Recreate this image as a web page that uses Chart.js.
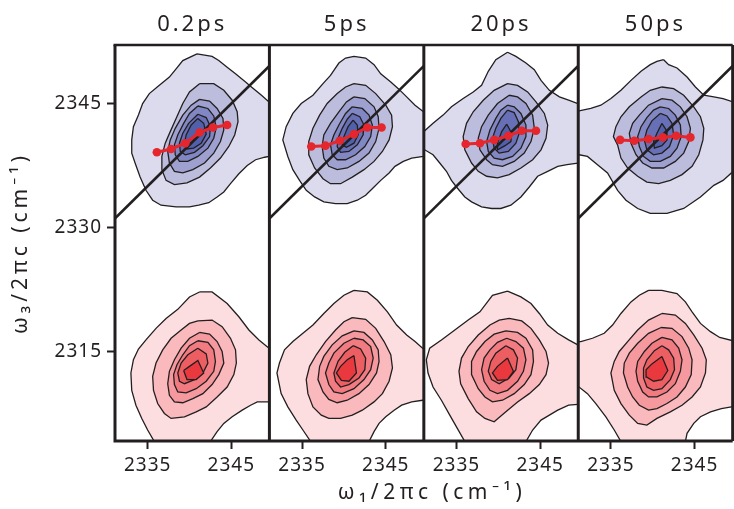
<!DOCTYPE html>
<html>
<head>
<meta charset="utf-8">
<title>2D IR spectra</title>
<script src="https://cdn.jsdelivr.net/npm/chart.js@4.4.1/dist/chart.umd.min.js"></script>
<style>
  html, body { margin: 0; padding: 0; background: #ffffff; overflow: hidden; }
  #wrap { position: relative; width: 738px; height: 509px; }
</style>
</head>
<body>
<div id="wrap"><canvas id="spectra" width="738" height="509"></canvas></div>
<script>
// Waiting times, one panel each
const delays = ['0.2ps', '5ps', '20ps', '50ps'];
const xTicks = [2335, 2345];
const yTicks = [2315, 2330, 2345];
const diagW = [2320, 2360];

// Centre-line: omega_3 of the peak maximum at each omega_1 slice
const slopeW1 = [2336.1, 2337.8, 2339.5, 2341.2, 2342.8, 2344.5];
const slope02 = [2339.1, 2339.5, 2340.2, 2341.5, 2342.1, 2342.4];
const slope5  = [2339.8, 2339.9, 2340.5, 2341.3, 2342.1, 2342.1];
const slope20 = [2340.1, 2340.2, 2340.6, 2341.1, 2341.7, 2341.7];
const slope50 = [2340.6, 2340.5, 2340.7, 2340.9, 2341.1, 2340.9];

// Contour polygons (omega_1, omega_3 pairs), outermost level first
const blue02 = [
  [2340.9,2351.0, 2342.7,2350.7, 2343.5,2350.2, 2344.5,2349.4, 2345.5,2348.6, 2346.7,2347.6, 2347.4,2347.0, 2348.6,2346.0, 2349.5,2345.2, 2351.8,2344.0, 2351.8,2338.8, 2349.5,2338.6, 2349.0,2338.5, 2347.9,2338.2, 2346.9,2337.5, 2345.9,2336.5, 2344.9,2335.3, 2344.1,2334.3, 2343.3,2333.7, 2342.3,2333.0, 2341.1,2332.7, 2340.0,2332.5, 2338.4,2332.5, 2336.6,2332.7, 2335.6,2333.3, 2334.8,2334.5, 2334.1,2336.1, 2333.5,2337.8, 2333.1,2339.0, 2333.1,2340.6, 2333.3,2342.2, 2333.9,2343.6, 2334.4,2345.0, 2335.2,2346.2, 2336.4,2347.2, 2337.6,2348.2, 2338.4,2349.2, 2339.2,2350.2],
  [2341.2,2347.4, 2342.9,2347.4, 2344.1,2346.6, 2345.1,2345.4, 2345.7,2344.0, 2345.8,2342.8, 2345.4,2341.2, 2344.7,2339.8, 2343.7,2338.4, 2342.5,2337.2, 2341.2,2336.1, 2339.7,2335.4, 2338.2,2335.2, 2337.2,2335.7, 2336.7,2337.0, 2336.7,2338.6, 2337.1,2340.2, 2337.7,2341.6, 2338.4,2343.2, 2339.2,2345.0, 2340.0,2346.4],
  [2341.2,2345.5, 2342.4,2345.3, 2343.3,2344.4, 2344.0,2343.2, 2344.1,2341.8, 2343.7,2340.4, 2342.9,2339.0, 2341.8,2337.8, 2340.4,2337.0, 2339.2,2336.6, 2338.2,2336.8, 2337.6,2337.8, 2337.4,2339.2, 2337.7,2340.6, 2338.3,2342.0, 2339.2,2343.6, 2340.2,2344.8],
  [2341.0,2344.7, 2342.2,2344.4, 2342.9,2343.5, 2343.2,2342.1, 2342.9,2340.8, 2342.2,2339.6, 2341.0,2338.6, 2339.8,2338.0, 2338.8,2338.0, 2338.3,2338.8, 2338.2,2340.0, 2338.6,2341.2, 2339.3,2342.6, 2340.0,2343.8],
  [2341.0,2343.7, 2342.0,2343.3, 2342.5,2342.2, 2342.4,2341.0, 2341.6,2339.9, 2340.6,2339.1, 2339.5,2338.8, 2338.9,2339.2, 2338.8,2340.2, 2339.2,2341.4, 2339.9,2342.6],
  [2341.0,2343.2, 2341.7,2342.6, 2342.0,2341.3, 2341.4,2340.2, 2340.5,2339.6, 2339.7,2339.5, 2339.4,2340.2, 2339.6,2341.2, 2340.2,2342.4]
];
const red02 = [
  [2341.2,2322.2, 2342.7,2322.2, 2344.5,2320.8, 2345.9,2319.2, 2347.1,2317.6, 2348.3,2316.4, 2349.5,2315.4, 2350.7,2314.8, 2350.7,2309.1, 2349.5,2308.9, 2348.1,2308.9, 2347.3,2308.5, 2346.3,2307.9, 2345.1,2307.1, 2344.1,2306.3, 2343.3,2305.3, 2342.5,2304.1, 2342.4,2303.1, 2335.6,2303.1, 2335.8,2304.1, 2335.0,2305.5, 2334.3,2306.9, 2333.6,2308.5, 2333.1,2310.3, 2333.0,2312.4, 2333.3,2314.0, 2333.9,2315.3, 2334.8,2316.4, 2336.0,2317.8, 2337.2,2319.0, 2338.6,2320.1, 2340.0,2321.6],
  [2341.0,2318.7, 2342.7,2318.8, 2343.9,2318.0, 2344.9,2316.6, 2345.5,2315.2, 2345.6,2313.6, 2345.3,2312.2, 2344.5,2310.7, 2343.3,2309.5, 2342.0,2308.3, 2340.8,2307.7, 2339.4,2307.1, 2337.8,2306.9, 2337.0,2307.5, 2336.2,2308.7, 2335.7,2310.3, 2335.6,2312.0, 2336.0,2313.6, 2336.8,2315.2, 2337.8,2316.6, 2339.0,2317.6, 2340.0,2318.4],
  [2341.2,2317.3, 2342.4,2317.1, 2343.3,2316.2, 2343.9,2315.0, 2344.1,2313.6, 2343.5,2312.2, 2342.7,2311.0, 2341.6,2309.9, 2340.4,2309.3, 2339.2,2308.8, 2338.2,2308.9, 2337.6,2309.7, 2337.4,2311.1, 2337.6,2312.6, 2338.2,2314.0, 2339.0,2315.4, 2340.0,2316.6],
  [2341.0,2316.3, 2342.2,2316.1, 2342.9,2315.2, 2343.1,2313.8, 2342.9,2312.6, 2342.0,2311.4, 2340.8,2310.5, 2339.6,2310.0, 2338.6,2310.1, 2338.2,2311.0, 2338.1,2312.2, 2338.5,2313.4, 2339.2,2314.6, 2340.0,2315.7],
  [2341.0,2315.4, 2342.0,2314.7, 2342.2,2313.6, 2341.6,2312.4, 2340.6,2311.6, 2339.4,2311.1, 2338.8,2311.4, 2338.6,2312.4, 2339.0,2313.6, 2339.8,2314.6],
  [2339.3,2312.7, 2340.0,2313.2, 2341.0,2313.9, 2341.7,2312.4, 2340.8,2311.6, 2339.7,2311.6]
];
const blue5 = [
  [2341.2,2350.7, 2342.6,2350.5, 2343.6,2349.7, 2344.4,2348.6, 2345.6,2347.6, 2346.5,2346.8, 2347.5,2345.8, 2348.5,2344.8, 2349.5,2344.0, 2350.7,2343.6, 2350.7,2338.8, 2349.5,2338.6, 2348.1,2338.4, 2347.1,2338.0, 2346.1,2337.4, 2345.4,2336.6, 2344.4,2335.7, 2343.6,2334.9, 2342.6,2333.9, 2341.6,2333.3, 2340.4,2332.9, 2339.0,2332.9, 2337.6,2333.1, 2336.5,2333.7, 2335.5,2334.5, 2334.7,2335.7, 2333.9,2337.0, 2333.3,2338.6, 2332.7,2340.6, 2333.1,2342.2, 2333.9,2343.8, 2334.9,2345.0, 2336.3,2346.0, 2337.5,2347.4, 2338.4,2348.4, 2339.4,2349.9, 2340.2,2350.5],
  [2341.2,2347.4, 2342.6,2347.2, 2343.8,2346.2, 2345.0,2344.8, 2345.7,2343.6, 2345.8,2342.2, 2345.4,2340.6, 2344.6,2339.2, 2343.6,2338.0, 2342.4,2337.0, 2341.0,2336.1, 2339.6,2335.3, 2338.4,2335.3, 2337.5,2335.9, 2336.5,2337.2, 2335.8,2338.8, 2335.8,2340.4, 2336.3,2342.0, 2337.1,2343.6, 2338.0,2345.0, 2339.2,2346.2, 2340.2,2347.0],
  [2341.2,2345.8, 2342.5,2345.6, 2343.6,2344.6, 2344.1,2343.4, 2344.2,2342.0, 2343.8,2340.4, 2343.0,2339.0, 2341.8,2338.0, 2340.4,2337.2, 2339.2,2337.0, 2338.2,2337.4, 2337.6,2338.4, 2337.4,2339.8, 2337.6,2341.2, 2338.4,2342.6, 2339.4,2344.0, 2340.3,2345.2],
  [2341.0,2344.6, 2342.2,2344.4, 2343.0,2343.6, 2343.4,2342.4, 2343.2,2341.0, 2342.5,2339.8, 2341.4,2338.8, 2340.2,2338.2, 2339.2,2338.2, 2338.6,2338.8, 2338.4,2340.0, 2338.8,2341.2, 2339.4,2342.4, 2340.2,2343.8],
  [2341.0,2343.8, 2341.9,2343.4, 2342.4,2342.4, 2342.3,2341.2, 2341.6,2340.0, 2340.6,2339.2, 2339.6,2339.1, 2339.2,2339.8, 2339.3,2340.8, 2339.8,2342.0, 2340.4,2343.1],
  [2341.1,2343.0, 2341.6,2342.4, 2341.7,2341.2, 2341.2,2340.2, 2340.3,2339.7, 2339.8,2340.0, 2340.0,2341.0, 2340.5,2342.2]
];
const red5 = [
  [2341.2,2322.4, 2342.8,2322.2, 2344.0,2321.2, 2345.2,2319.8, 2346.3,2318.2, 2347.5,2317.0, 2348.5,2316.2, 2349.4,2315.4, 2350.7,2314.8, 2350.7,2309.2, 2349.4,2309.1, 2348.1,2308.9, 2346.9,2308.5, 2346.0,2307.9, 2345.0,2307.1, 2344.2,2306.3, 2343.6,2305.3, 2343.0,2304.1, 2342.8,2302.9, 2335.9,2302.9, 2335.9,2304.3, 2335.1,2305.5, 2334.3,2306.7, 2333.3,2308.3, 2332.5,2309.9, 2332.0,2312.4, 2332.3,2313.6, 2332.9,2315.2, 2333.9,2316.2, 2335.1,2317.2, 2336.3,2318.2, 2337.6,2319.6, 2338.8,2320.8, 2340.0,2321.8],
  [2341.0,2319.1, 2342.6,2318.9, 2343.8,2317.8, 2344.8,2316.2, 2345.6,2314.6, 2345.8,2313.0, 2345.4,2311.4, 2344.6,2309.9, 2343.6,2308.9, 2342.2,2307.9, 2341.0,2307.3, 2339.6,2306.9, 2338.2,2306.9, 2337.3,2307.3, 2336.3,2308.3, 2335.7,2309.9, 2335.5,2311.6, 2335.9,2313.2, 2336.7,2314.6, 2337.8,2316.2, 2339.0,2317.6, 2340.0,2318.6],
  [2341.2,2317.5, 2342.4,2317.3, 2343.4,2316.4, 2344.1,2315.2, 2344.2,2313.8, 2343.9,2312.4, 2343.0,2311.0, 2341.8,2309.9, 2340.4,2309.1, 2339.2,2308.8, 2338.2,2309.2, 2337.5,2310.1, 2336.9,2311.6, 2337.1,2313.2, 2337.6,2314.4, 2338.6,2315.8, 2339.8,2316.9],
  [2341.2,2316.6, 2342.3,2316.4, 2343.2,2315.6, 2343.5,2314.2, 2343.2,2312.8, 2342.4,2311.6, 2341.2,2310.5, 2339.8,2309.9, 2338.8,2310.1, 2338.2,2311.0, 2337.8,2312.4, 2338.2,2313.6, 2338.8,2314.8, 2340.0,2316.0],
  [2341.1,2315.7, 2342.0,2315.3, 2342.6,2314.2, 2342.5,2312.8, 2341.8,2311.8, 2340.6,2311.0, 2339.6,2310.7, 2339.0,2311.4, 2338.8,2312.4, 2339.3,2313.8, 2340.1,2314.9],
  [2341.2,2314.5, 2341.5,2312.4, 2340.6,2311.4, 2339.7,2311.5, 2339.1,2312.4, 2339.6,2313.2, 2340.4,2314.0]
];
const blue20 = [
  [2341.1,2351.2, 2342.1,2350.7, 2343.3,2349.9, 2344.3,2349.1, 2345.1,2347.8, 2346.1,2346.6, 2347.3,2345.8, 2348.4,2345.4, 2349.5,2345.0, 2350.8,2344.8, 2350.8,2337.8, 2349.5,2337.8, 2348.2,2337.6, 2347.1,2337.4, 2345.9,2336.8, 2344.7,2336.2, 2343.7,2334.9, 2342.7,2333.7, 2341.5,2332.7, 2340.3,2332.3, 2339.2,2332.3, 2338.0,2332.5, 2336.8,2333.1, 2336.0,2333.7, 2335.0,2334.9, 2334.4,2335.7, 2333.8,2336.8, 2333.0,2337.8, 2332.2,2338.8, 2331.2,2339.4, 2329.7,2339.4, 2329.7,2341.7, 2331.2,2341.7, 2332.2,2342.6, 2333.4,2343.6, 2334.4,2344.6, 2335.8,2345.6, 2337.0,2346.4, 2338.0,2347.2, 2338.8,2348.9, 2339.7,2350.3],
  [2341.1,2347.4, 2342.3,2347.2, 2343.5,2346.4, 2344.5,2345.2, 2345.5,2343.8, 2345.9,2342.4, 2345.7,2340.8, 2345.1,2339.4, 2344.1,2338.2, 2342.7,2337.2, 2341.3,2336.4, 2339.9,2336.0, 2338.6,2336.2, 2337.6,2336.8, 2336.8,2337.8, 2336.0,2339.4, 2335.8,2341.0, 2336.2,2342.6, 2337.0,2344.0, 2338.2,2345.4, 2339.5,2346.6],
  [2341.3,2346.0, 2342.3,2345.8, 2343.3,2345.0, 2344.1,2343.6, 2344.3,2342.0, 2343.9,2340.4, 2343.1,2339.0, 2341.9,2338.0, 2340.5,2337.4, 2339.3,2337.6, 2338.6,2338.2, 2337.8,2339.4, 2337.6,2340.8, 2338.0,2342.2, 2338.8,2343.6, 2339.9,2345.0],
  [2341.1,2344.8, 2341.9,2344.6, 2342.7,2343.8, 2343.3,2342.4, 2343.3,2341.0, 2342.7,2339.6, 2341.7,2338.6, 2340.5,2338.2, 2339.5,2338.4, 2338.8,2339.2, 2338.6,2340.4, 2339.0,2341.8, 2339.7,2343.2, 2340.3,2344.2],
  [2341.1,2344.2, 2341.9,2343.9, 2342.4,2342.8, 2342.5,2341.4, 2342.1,2340.2, 2341.2,2339.2, 2340.1,2339.0, 2339.5,2339.6, 2339.3,2340.8, 2339.7,2342.0, 2340.3,2343.2],
  [2341.0,2342.5, 2341.6,2341.4, 2341.5,2340.4, 2340.8,2339.9, 2339.9,2339.4, 2339.9,2340.2, 2340.4,2341.6]
];
const red20 = [
  [2341.1,2322.3, 2342.7,2321.6, 2343.9,2320.8, 2344.9,2319.6, 2345.9,2318.2, 2347.1,2317.2, 2348.4,2316.4, 2349.5,2315.8, 2350.8,2315.4, 2350.8,2308.7, 2349.5,2308.6, 2348.4,2308.5, 2347.1,2307.9, 2346.1,2307.3, 2345.1,2306.7, 2344.1,2305.5, 2343.3,2304.1, 2343.1,2302.9, 2335.8,2302.9, 2336.0,2304.1, 2335.1,2305.7, 2334.2,2307.3, 2333.2,2309.1, 2332.2,2310.7, 2331.6,2312.4, 2331.4,2314.0, 2331.8,2315.4, 2333.2,2316.4, 2334.8,2317.6, 2336.4,2318.8, 2337.8,2319.8, 2339.3,2321.8],
  [2341.3,2319.0, 2342.8,2318.7, 2343.9,2317.8, 2344.9,2316.4, 2345.7,2315.0, 2346.0,2313.6, 2345.7,2312.2, 2344.9,2311.0, 2343.7,2309.9, 2342.3,2308.9, 2340.9,2307.7, 2339.5,2306.5, 2338.4,2306.9, 2337.4,2307.7, 2336.4,2309.3, 2335.5,2311.1, 2335.3,2312.6, 2335.6,2314.2, 2336.4,2315.6, 2337.6,2317.0, 2339.0,2318.2, 2340.1,2318.8],
  [2340.9,2317.5, 2342.3,2317.3, 2343.3,2316.6, 2344.1,2315.2, 2344.2,2313.8, 2343.9,2312.2, 2343.1,2311.0, 2341.9,2309.9, 2340.5,2309.1, 2339.3,2308.9, 2338.4,2309.5, 2337.6,2310.5, 2336.8,2312.2, 2336.8,2313.8, 2337.4,2315.0, 2338.4,2316.2, 2339.5,2317.1],
  [2341.0,2316.6, 2342.1,2316.2, 2343.0,2315.4, 2343.3,2314.0, 2343.0,2312.6, 2342.3,2311.4, 2341.1,2310.3, 2339.9,2309.9, 2339.0,2310.3, 2338.3,2311.4, 2338.0,2312.8, 2338.3,2314.2, 2339.0,2315.2, 2339.9,2316.1],
  [2340.9,2315.7, 2341.8,2315.2, 2342.3,2314.2, 2342.1,2312.8, 2341.3,2311.8, 2340.1,2311.1, 2339.2,2311.6, 2338.8,2312.6, 2339.1,2313.8, 2339.7,2314.8],
  [2341.1,2314.2, 2341.8,2312.6, 2341.1,2311.6, 2339.9,2311.5, 2339.3,2312.4, 2339.9,2313.2]
];
const blue50 = [
  [2341.3,2350.3, 2341.9,2349.7, 2342.9,2349.3, 2344.1,2348.2, 2345.1,2347.0, 2346.1,2346.0, 2347.3,2345.8, 2348.4,2345.6, 2349.6,2345.2, 2350.8,2345.0, 2350.8,2336.8, 2349.4,2336.6, 2348.4,2335.7, 2347.3,2335.1, 2345.7,2333.7, 2343.7,2332.3, 2341.7,2331.7, 2339.7,2331.7, 2338.2,2332.3, 2336.8,2333.3, 2335.8,2334.5, 2334.6,2336.6, 2333.4,2337.6, 2332.2,2338.6, 2331.2,2338.8, 2329.9,2338.8, 2329.9,2344.1, 2331.2,2344.1, 2332.6,2344.4, 2333.8,2344.8, 2335.0,2345.6, 2336.2,2346.6, 2337.4,2347.8, 2338.6,2348.9, 2339.7,2349.7, 2340.5,2350.1],
  [2341.1,2347.0, 2342.5,2346.8, 2343.7,2346.0, 2344.9,2344.6, 2345.7,2343.4, 2346.1,2342.0, 2346.0,2340.6, 2345.5,2338.8, 2344.7,2337.4, 2343.5,2336.4, 2342.1,2335.7, 2340.7,2335.3, 2339.3,2335.5, 2338.2,2336.2, 2337.0,2337.2, 2336.2,2338.4, 2335.8,2340.0, 2335.3,2341.0, 2335.6,2342.2, 2336.2,2343.4, 2337.2,2344.6, 2338.6,2345.8, 2339.7,2346.6],
  [2341.1,2345.6, 2342.3,2345.4, 2343.3,2344.6, 2344.1,2343.4, 2344.5,2342.0, 2344.3,2340.4, 2343.7,2339.0, 2342.7,2338.0, 2341.3,2337.2, 2339.9,2337.2, 2338.8,2337.8, 2338.0,2338.8, 2337.4,2340.2, 2337.2,2341.4, 2337.6,2342.6, 2338.4,2343.6, 2339.5,2344.8],
  [2340.9,2344.6, 2341.9,2344.4, 2342.7,2343.6, 2343.3,2342.4, 2343.4,2341.0, 2342.9,2339.6, 2342.1,2338.6, 2340.9,2338.0, 2339.7,2338.0, 2338.9,2338.6, 2338.4,2339.8, 2338.2,2341.0, 2338.6,2342.2, 2339.3,2343.3, 2340.1,2344.2],
  [2340.9,2343.8, 2341.7,2343.5, 2342.3,2342.6, 2342.5,2341.2, 2342.0,2339.8, 2341.1,2339.0, 2340.1,2338.8, 2339.3,2339.4, 2339.0,2340.6, 2339.3,2341.8, 2339.9,2342.9],
  [2341.1,2342.6, 2341.6,2341.8, 2341.7,2340.6, 2341.1,2339.9, 2340.2,2339.6, 2340.1,2340.4, 2340.5,2341.4]
];
const red50 = [
  [2339.5,2322.4, 2341.1,2322.4, 2342.9,2322.0, 2343.9,2321.0, 2344.7,2319.8, 2345.7,2318.4, 2346.9,2317.4, 2348.0,2316.7, 2349.6,2316.3, 2350.8,2316.2, 2350.8,2308.4, 2349.4,2308.3, 2348.2,2308.1, 2346.9,2307.7, 2345.7,2307.1, 2344.9,2306.3, 2344.1,2305.1, 2343.9,2304.1, 2343.7,2302.9, 2336.2,2302.9, 2336.2,2304.1, 2335.4,2305.5, 2334.4,2307.1, 2333.2,2308.7, 2332.2,2309.9, 2331.2,2310.7, 2329.9,2310.7, 2329.9,2316.2, 2331.4,2316.2, 2332.8,2316.6, 2334.2,2317.2, 2335.2,2318.2, 2336.2,2319.6, 2337.4,2321.0, 2338.4,2321.8],
  [2341.1,2319.6, 2342.7,2319.4, 2343.9,2318.4, 2344.9,2317.0, 2345.9,2315.4, 2346.4,2314.0, 2346.3,2312.4, 2345.7,2310.7, 2344.7,2309.5, 2343.5,2308.5, 2342.1,2307.7, 2340.5,2306.9, 2339.3,2306.1, 2338.2,2306.3, 2337.2,2307.3, 2336.2,2308.7, 2335.4,2310.3, 2335.0,2312.4, 2335.4,2313.8, 2336.0,2315.0, 2337.0,2316.2, 2338.2,2317.6, 2339.5,2318.8],
  [2341.0,2317.9, 2342.3,2317.8, 2343.5,2316.8, 2344.3,2315.4, 2344.7,2314.0, 2344.6,2312.2, 2343.9,2310.7, 2342.9,2309.5, 2341.7,2308.7, 2340.5,2308.1, 2339.5,2307.9, 2338.4,2308.5, 2337.6,2309.5, 2337.0,2310.7, 2336.5,2312.4, 2336.6,2313.6, 2337.2,2314.8, 2338.2,2316.0, 2339.5,2317.2],
  [2341.1,2316.7, 2342.3,2316.4, 2343.1,2315.4, 2343.5,2314.0, 2343.3,2312.6, 2342.7,2311.1, 2341.7,2310.1, 2340.5,2309.5, 2339.5,2309.5, 2338.8,2310.1, 2338.2,2311.4, 2338.0,2312.6, 2338.2,2313.8, 2339.0,2315.0, 2339.9,2316.0],
  [2341.1,2315.7, 2341.9,2315.2, 2342.5,2314.2, 2342.6,2312.8, 2342.1,2311.6, 2341.1,2310.5, 2340.1,2310.3, 2339.3,2310.7, 2338.9,2311.8, 2338.9,2313.0, 2339.3,2314.0, 2340.2,2315.1],
  [2341.1,2314.4, 2341.8,2312.7, 2341.1,2311.6, 2340.1,2311.4, 2339.3,2311.9, 2339.2,2312.8, 2339.9,2313.5]
];

// Fill colours per contour level, outermost first
const blueFill = ['#dcdbee', '#bcbddc', '#9ea1cf', '#8187c2', '#6770b6', '#5160aa'];
const redFill  = ['#fcdde0', '#f9b9bd', '#f5999e', '#f17b80', '#ed5e63', '#e9393f'];

const INK = '#231f20';
const RED = '#e5262c';
const FONT = "'Noto Sans', 'Open Sans', sans-serif";
const xMin = 2331.1, xMax = 2349.55;
const yMin = 2304.17, yMax = 2352.08;

const panels = [
  { delay: delays[0], blue: blue02, red: red02, slope: slope02 },
  { delay: delays[1], blue: blue5,  red: red5,  slope: slope5 },
  { delay: delays[2], blue: blue20, red: red20, slope: slope20 },
  { delay: delays[3], blue: blue50, red: red50, slope: slope50 }
];

// Closed ring of {x, y} points from a flat list of pairs
function ring(flat) {
  const out = [];
  for (let i = 0; i < flat.length; i += 2) out.push({ x: flat[i], y: flat[i + 1] });
  out.push({ x: flat[0], y: flat[1] });
  return out;
}

// Canvas letter spacing for one scale's title and tick labels
function spaceText(scale, titlePx, labelPx) {
  if (scale.$spaced) return;
  scale.$spaced = true;
  const wrap = (name, px) => {
    const fn = scale[name];
    scale[name] = function (...args) {
      const ctx = this.ctx;
      const prev = ctx.letterSpacing;
      ctx.letterSpacing = px + 'px';
      fn.apply(this, args);
      ctx.letterSpacing = prev;
    };
  };
  wrap('drawTitle', titlePx);
  wrap('drawLabels', labelPx);
}

const datasets = [];
panels.forEach((p, i) => {
  const xid = 'x' + i;
  [[p.blue, blueFill], [p.red, redFill]].forEach(([levels, fills]) => {
    levels.forEach((lv, k) => {
      datasets.push({
        data: ring(lv), xAxisID: xid, yAxisID: 'y', showLine: true,
        fill: 'shape', backgroundColor: fills[k], borderColor: INK, borderWidth: 1.3,
        pointRadius: 0, pointHoverRadius: 0, tension: 0, order: 100 - k
      });
    });
  });
  datasets.push({
    data: diagW.map(v => ({ x: v, y: v })), xAxisID: xid, yAxisID: 'y', showLine: true,
    borderColor: INK, borderWidth: 2.6, pointRadius: 0, pointHoverRadius: 0, order: 10
  });
  datasets.push({
    data: slopeW1.map((v, j) => ({ x: v, y: p.slope[j] })), xAxisID: xid, yAxisID: 'y', showLine: true,
    borderColor: RED, backgroundColor: RED, borderWidth: 3, pointRadius: 4.3, pointHoverRadius: 4.3,
    pointBorderWidth: 0, order: 0
  });
});

const tickFont = { family: FONT, size: 19 };
const titleFont = { family: FONT, size: 21 };
const tickGrid = { drawOnChartArea: false, drawTicks: true, tickLength: 8, tickWidth: 2, tickColor: INK };
const plainNumber = v => String(v);
const blankAxis = { ticks: { display: false }, grid: { display: false }, border: { display: false } };

const scales = {
  y: {
    type: 'linear', position: 'left', min: yMin, max: yMax,
    afterBuildTicks: s => { s.ticks = yTicks.map(v => ({ value: v })); },
    afterFit: s => { s.width = 115; },
    afterUpdate: s => spaceText(s, 4, 1),
    grid: tickGrid, border: { display: false },
    ticks: { font: tickFont, color: INK, padding: 5, callback: plainNumber },
    title: { display: true, text: 'ω₃/2πc (cm⁻¹)', font: titleFont, color: INK, padding: { top: 8, bottom: 0 } }
  },
  // narrow empty slot that sets the omega_1 title a little right of centre
  w1gap: {
    type: 'linear', position: 'bottom', stack: 'w1row', stackWeight: 0.027, weight: 10, min: 0, max: 1,
    ...blankAxis,
    afterFit: s => { s.height = 30; }
  },
  w1: {
    type: 'linear', position: 'bottom', stack: 'w1row', stackWeight: 1, weight: 10, min: 0, max: 1,
    ...blankAxis,
    afterFit: s => { s.height = 30; },
    afterUpdate: s => spaceText(s, 4.5, 0),
    title: { display: true, text: 'ω₁/2πc (cm⁻¹)', font: titleFont, color: INK, padding: { top: 0, bottom: 3 } }
  }
};
panels.forEach((p, i) => {
  scales['x' + i] = {
    type: 'linear', position: 'bottom', stack: 'w1axes', stackWeight: 1, weight: 0,
    min: xMin, max: xMax,
    afterBuildTicks: s => { s.ticks = xTicks.map(v => ({ value: v })); },
    afterFit: s => { s.height = 38; },
    afterUpdate: s => spaceText(s, 0, 1),
    grid: tickGrid, border: { display: false },
    ticks: { font: tickFont, color: INK, padding: 5, maxRotation: 0, autoSkip: false, callback: plainNumber }
  };
  scales['t' + i] = {
    type: 'linear', position: 'top', stack: 'delays', stackWeight: 1, weight: 3 - i,
    min: xMin, max: xMax,
    ...blankAxis,
    afterFit: s => { s.height = 45; },
    afterUpdate: s => spaceText(s, 3, 0),
    title: { display: true, text: p.delay, font: { family: FONT, size: 22 }, color: INK, padding: { top: 12, bottom: 0 } }
  };
});

// Keep each panel's marks inside its own omega_1 range
const panelClip = {
  id: 'panelClip',
  beforeDatasetDraw(chart, args) {
    const xs = args.meta.xScale, ys = args.meta.yScale;
    const ctx = chart.ctx;
    ctx.save();
    ctx.beginPath();
    ctx.rect(xs.left, ys.top, xs.right - xs.left, ys.bottom - ys.top);
    ctx.clip();
  },
  afterDatasetDraw(chart) { chart.ctx.restore(); }
};
// The clip must run before the filler paints each contour
const filler = Chart.registry.getPlugin('filler');
Chart.unregister(filler);
Chart.register(panelClip, filler);

// Panel frames
const panelFrame = {
  id: 'panelFrame',
  afterDatasetsDraw(chart) {
    const { ctx, chartArea: a } = chart;
    ctx.save();
    ctx.strokeStyle = INK;
    ctx.lineWidth = 3;
    ctx.beginPath();
    panels.forEach((p, i) => {
      const s = chart.scales['x' + i];
      ctx.moveTo(s.left, a.top); ctx.lineTo(s.left, a.bottom + 1.5);
    });
    ctx.moveTo(a.right, a.top); ctx.lineTo(a.right, a.bottom);
    ctx.moveTo(a.left - 1.5, a.bottom); ctx.lineTo(a.right, a.bottom);
    ctx.stroke();
    ctx.lineWidth = 2.5;
    ctx.beginPath();
    ctx.moveTo(a.left - 1.5, a.top); ctx.lineTo(a.right, a.top);
    ctx.stroke();
    ctx.restore();
  }
};

new Chart(document.getElementById('spectra'), {
  type: 'scatter',
  data: { datasets },
  options: {
    responsive: false,
    animation: false,
    events: [],
    devicePixelRatio: 1,
    layout: { padding: { left: 0, right: 1, top: 0, bottom: 0 } },
    plugins: { legend: { display: false }, tooltip: { enabled: false }, title: { display: false } },
    scales
  },
  plugins: [panelFrame]
});
</script>
</body>
</html>
